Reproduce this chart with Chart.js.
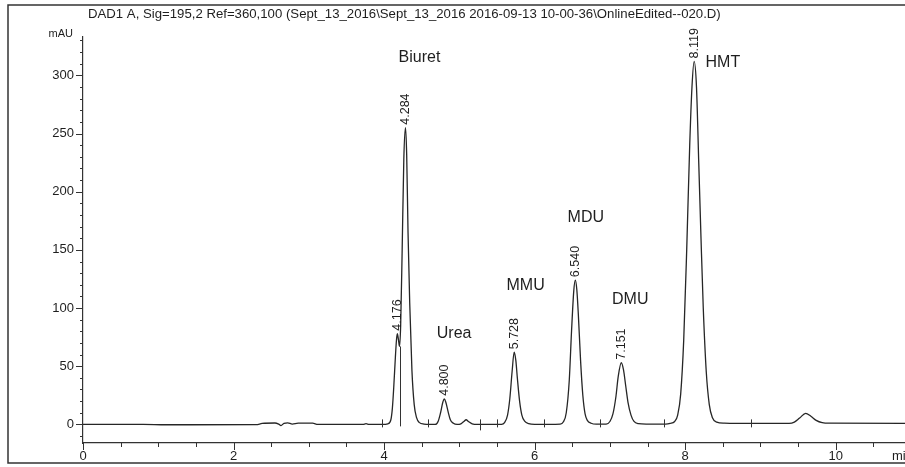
<!DOCTYPE html>
<html>
<head>
<meta charset="utf-8">
<script src="https://cdn.jsdelivr.net/npm/chart.js@4"></script>
<style>
  html, body { margin: 0; padding: 0; background: #fff; }
  canvas { display: block; }
</style>
</head>
<body>
<canvas id="chrom" width="905" height="467"></canvas>
<script>
const titleText = 'DAD1 A, Sig=195,2 Ref=360,100 (Sept_13_2016\\Sept_13_2016 2016-09-13 10-00-36\\OnlineEdited--020.D)';

// retention time (min) and absorbance (mAU)
const traceTimes = [
    0, 0.8, 1.1, 2.3, 2.38, 2.55, 2.6, 2.63, 2.67, 2.72, 2.78, 2.86, 3.05, 3.12, 3.72, 3.76, 3.80, 3.98,
    4.05, 4.09, 4.11, 4.13, 4.15, 4.165, 4.176, 4.19, 4.205, 4.22, 4.24, 4.262, 4.284, 4.30, 4.318, 4.34,
    4.37, 4.40, 4.43, 4.47, 4.53, 4.60,
    4.68, 4.72, 4.75, 4.78, 4.80, 4.82, 4.85, 4.88, 4.92, 4.97,
    5.02, 5.06, 5.09, 5.12, 5.17, 5.24,
    5.56, 5.60, 5.64, 5.67, 5.70, 5.728, 5.75, 5.77, 5.80, 5.83, 5.87, 5.92, 6.00,
    6.34, 6.38, 6.42, 6.46, 6.49, 6.52, 6.54, 6.56, 6.58, 6.61, 6.64, 6.67, 6.70, 6.75, 6.82,
    6.95, 7.00, 7.04, 7.08, 7.11, 7.151, 7.18, 7.21, 7.24, 7.28, 7.32, 7.38, 7.48,
    7.74, 7.80, 7.86, 7.90, 7.94, 7.98, 8.02, 8.06, 8.09, 8.119, 8.15, 8.18, 8.21, 8.24, 8.28, 8.32,
    8.36, 8.42, 8.52, 8.70, 9.0,
    9.38, 9.45, 9.52, 9.60, 9.67, 9.74, 9.82, 9.92, 10.93
];
const traceValues = [
    0, 0, -0.3, -0.2, 0.8, 1.2, 0.2, -1.0, 0.9, 1.3, 0.3, 1.0, 1.0, 0, 0, 0.6, 0, 0,
    0.5, 4, 14, 34, 58, 73, 78, 73, 67, 85, 150, 228, 255, 232, 165, 105,
    46, 17, 6, 1.5, 0.3, 0,
    0, 3, 10, 19, 22, 19, 11, 4, 1, 0,
    0.5, 2.5, 4, 2.5, 0.5, 0,
    0, 1.5, 8, 22, 45, 62, 55, 40, 20, 8, 2.5, 0.6, 0,
    0.3, 2, 10, 38, 80, 115, 124, 116, 95, 55, 25, 9, 3.5, 1, 0.2,
    0.3, 2.5, 9, 24, 41, 53, 47, 33, 19, 8, 2.5, 0.6, 0.2,
    0.2, 0.8, 2.5, 8, 26, 72, 150, 240, 290, 312, 290, 225, 160, 100, 45, 17,
    6, 2, 1, 0.8, 0.8,
    0.9, 2, 5.5, 9.5, 7, 3.5, 1.5, 1, 0.8
];

// peak apex labels
const peakTimes = [4.176, 4.284, 4.800, 5.728, 6.540, 7.151, 8.119];
const peakHeights = [78, 255, 22, 62, 124, 53, 312];
const peakLabels = ['4.176', '4.284', '4.800', '5.728', '6.540', '7.151', '8.119'];

// compound names and where they sit (min, mAU)
const compoundNames = ['Biuret', 'Urea', 'MMU', 'MDU', 'DMU', 'HMT'];
const compoundAt = [[4.47, 315.5], [4.93, 78], [5.88, 119.5], [6.68, 178], [7.27, 107.5], [8.50, 311]];

// integration marks on the baseline
const baselineMarks = [3.97, 4.58, 5.28, 5.50, 6.12, 6.87, 7.72, 8.87];
const dropLine = [4.206, 67];

const xMin = 0, xMax = 10.92;
const yMin = -16, yMax = 333;
const ink = '#1e1e1e';
const FONT = '"Liberation Sans", Arial, sans-serif';

const decorPlugin = {
    id: 'decor',
    afterDraw(chart) {
        const ctx = chart.ctx;
        const xs = chart.scales.x, ys = chart.scales.y;
        const area = chart.chartArea;
        ctx.save();
        ctx.strokeStyle = '#333';
        ctx.fillStyle = ink;

        // frame
        ctx.lineWidth = 1.5;
        ctx.beginPath();
        ctx.moveTo(905, 5); ctx.lineTo(8, 5); ctx.lineTo(8, 463); ctx.lineTo(905, 463);
        ctx.stroke();

        // title
        ctx.font = '13.2px ' + FONT;
        ctx.textAlign = 'left';
        ctx.textBaseline = 'middle';
        ctx.fillText(titleText, 88, 14);

        ctx.font = '11px ' + FONT;
        ctx.textAlign = 'right';
        ctx.fillText('mAU', 73, 34);
        ctx.font = '13px ' + FONT;
        ctx.textAlign = 'left';
        ctx.fillText('min', 892, 456);

        // axis ticks
        ctx.lineWidth = 1;
        ctx.beginPath();
        for (let v = -10; v <= 330; v += 10) {
            const y = Math.round(ys.getPixelForValue(v)) + 0.5;
            const len = v % 50 === 0 ? 7 : 3;
            ctx.moveTo(area.left - len, y); ctx.lineTo(area.left, y);
        }
        for (let v = 0; v <= 10.5; v += 0.5) {
            const x = Math.round(xs.getPixelForValue(v)) + 0.5;
            const len = v % 2 === 0 ? 7 : 4;
            ctx.moveTo(x, area.bottom); ctx.lineTo(x, area.bottom + len);
        }
        ctx.stroke();

        // baseline marks and drop line
        const y0 = ys.getPixelForValue(0);
        ctx.beginPath();
        baselineMarks.forEach(t => {
            const x = Math.round(xs.getPixelForValue(t)) + 0.5;
            const down = t === 5.28 ? 6 : 3;
            ctx.moveTo(x, y0 - 5); ctx.lineTo(x, y0 + down);
        });
        const dx = Math.round(xs.getPixelForValue(dropLine[0])) + 0.5;
        ctx.moveTo(dx, y0 + 2); ctx.lineTo(dx, ys.getPixelForValue(dropLine[1]));
        ctx.stroke();

        // retention times above peaks
        ctx.font = '12.5px ' + FONT;
        ctx.textAlign = 'left';
        ctx.textBaseline = 'middle';
        peakTimes.forEach((t, i) => {
            const x = xs.getPixelForValue(t);
            const y = ys.getPixelForValue(peakHeights[i]) - 3;
            ctx.save();
            ctx.translate(x, y);
            ctx.rotate(-Math.PI / 2);
            ctx.fillText(peakLabels[i], 0, 0);
            ctx.restore();
        });

        // compound names
        ctx.font = '16px ' + FONT;
        ctx.textAlign = 'center';
        compoundNames.forEach((n, i) => {
            ctx.fillText(n, xs.getPixelForValue(compoundAt[i][0]), ys.getPixelForValue(compoundAt[i][1]));
        });
        ctx.restore();
    }
};

new Chart(document.getElementById('chrom'), {
    type: 'line',
    data: {
        datasets: [{
            data: traceTimes.map((t, i) => ({x: t, y: traceValues[i]})),
            borderColor: '#262626',
            borderWidth: 1.3,
            pointRadius: 0,
            fill: false,
            cubicInterpolationMode: 'monotone'
        }]
    },
    options: {
        responsive: false,
        animation: false,
        devicePixelRatio: 1,
        layout: {padding: {top: 37, left: 0, right: 0, bottom: 0}},
        plugins: {legend: {display: false}, tooltip: {enabled: false}, title: {display: false}},
        scales: {
            x: {
                type: 'linear',
                min: xMin,
                max: xMax,
                grid: {display: false, drawTicks: false},
                border: {display: true, color: '#333', width: 1.2},
                ticks: {
                    stepSize: 0.5,
                    autoSkip: false,
                    maxRotation: 0,
                    padding: 6,
                    color: ink,
                    font: {family: FONT, size: 13},
                    callback: v => (v % 2 === 0 && v <= 10 ? String(v) : '')
                },
                afterFit: s => { s.height = 24; s.paddingRight = 0; s.paddingLeft = 0; }
            },
            y: {
                min: yMin,
                max: yMax,
                grid: {display: false, drawTicks: false},
                border: {display: true, color: '#333', width: 1.2},
                ticks: {
                    stepSize: 10,
                    autoSkip: false,
                    padding: 9,
                    color: ink,
                    font: {family: FONT, size: 13},
                    callback: v => (v % 50 === 0 ? String(v) : '')
                },
                afterFit: s => { s.width = 83; s.paddingTop = 0; s.paddingBottom = 0; }
            }
        }
    },
    plugins: [decorPlugin]
});
</script>
</body>
</html>
